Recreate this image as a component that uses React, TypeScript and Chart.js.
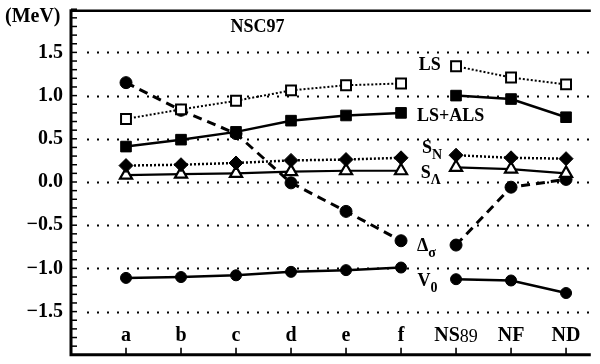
import React, { useEffect, useRef } from 'react';
import { Chart, registerables } from 'chart.js';

Chart.register(...registerables);

// Interaction sets along the horizontal axis
const categories = ['a', 'b', 'c', 'd', 'e', 'f', 'NS89', 'NF', 'ND'];

// Spin-dependent contributions (MeV)
const lsValues = [0.73, 0.84, 0.94, 1.06, 1.12, 1.14, 1.34, 1.21, 1.13];
const lsAlsValues = [0.41, 0.49, 0.58, 0.71, 0.77, 0.8, 1.0, 0.96, 0.75];
const sNValues = [0.19, 0.2, 0.22, 0.25, 0.26, 0.28, 0.31, 0.28, 0.27];
const sLambdaValues = [0.08, 0.09, 0.1, 0.12, 0.13, 0.13, 0.17, 0.15, 0.1];
const deltaSigmaValues = [1.15, 0.83, 0.56, -0.01, -0.34, -0.68, -0.73, -0.06, 0.03];
const v0Values = [-1.11, -1.1, -1.08, -1.04, -1.02, -0.99, -1.125, -1.14, -1.285];

// Y tick values that carry a dotted reference line
const gridValues = [1.5, 1.0, 0.5, 0.0, -0.5, -1.0, -1.5];

const FONT = '"Liberation Serif", "Times New Roman", serif';

// NSC97 variants (a..f) and the other models are drawn as separate line runs
function toPoints(values: number[]) {
  const pts: { x: number; y: number | null }[] = [];
  values.forEach((v, i) => {
    if (i === 6) pts.push({ x: 6.5, y: null });
    pts.push({ x: i + 1, y: v });
  });
  return pts;
}

type Note = { x: number; y: number; main: string; sub?: string };
const notes: Note[] = [
  { x: 6.32, y: 1.35, main: 'LS' },
  { x: 6.29, y: 0.755, main: 'LS+ALS' },
  { x: 6.38, y: 0.39, main: 'S', sub: 'N' },
  { x: 6.36, y: 0.096, main: 'S', sub: 'Λ' },
  { x: 6.29, y: -0.74, main: 'Δ', sub: 'σ' },
  { x: 6.3, y: -1.155, main: 'V', sub: '0' },
];

const framePlugin = {
  id: 'frame',
  beforeDatasetsDraw(chart: any) {
    const { ctx, chartArea, scales } = chart;
    const y = scales.y;
    ctx.save();
    ctx.strokeStyle = '#000';
    ctx.lineWidth = 1.8;
    ctx.setLineDash([2, 8]);
    for (const v of gridValues) {
      const py = Math.round(y.getPixelForValue(v)) + 0.5;
      ctx.beginPath();
      ctx.moveTo(chartArea.left + 16, py);
      ctx.lineTo(chartArea.right, py);
      ctx.stroke();
    }
    ctx.restore();
  },
  afterDraw(chart: any) {
    const { ctx, chartArea, scales } = chart;
    const { left, right, top, bottom } = chartArea;
    const x = scales.x;
    const y = scales.y;
    ctx.save();
    ctx.strokeStyle = '#000';
    ctx.setLineDash([]);

    // minor ticks on the value axis, pointing inward
    ctx.lineWidth = 1.5;
    for (let k = -20; k <= 20; k++) {
      const py = y.getPixelForValue(k / 10);
      ctx.beginPath();
      ctx.moveTo(left, py);
      ctx.lineTo(left + 6, py);
      ctx.stroke();
    }
    // category ticks, pointing up, with their labels inside the plot
    ctx.fillStyle = '#000';
    ctx.textBaseline = 'middle';
    categories.forEach((name, i) => {
      const px = x.getPixelForValue(i + 1);
      ctx.lineWidth = 1.6;
      ctx.beginPath();
      ctx.moveTo(px, bottom);
      ctx.lineTo(px, bottom - 7);
      ctx.stroke();

      const m = name.match(/^([A-Za-z]+)(\d*)$/);
      const head = m ? m[1] : name;
      const tail = m ? m[2] : '';
      ctx.font = `bold 20px ${FONT}`;
      const wHead = ctx.measureText(head).width;
      ctx.font = `18px ${FONT}`;
      const wTail = tail ? ctx.measureText(tail).width : 0;
      const start = px - (wHead + wTail) / 2;
      ctx.textAlign = 'left';
      ctx.font = `bold 20px ${FONT}`;
      ctx.fillText(head, start, bottom - 19);
      if (tail) {
        ctx.font = `18px ${FONT}`;
        ctx.fillText(tail, start + wHead, bottom - 18);
      }
    });

    // frame lines
    ctx.lineWidth = 2.5;
    ctx.beginPath();
    ctx.moveTo(left, top + 1.5);
    ctx.lineTo(right, top + 1.5);
    ctx.stroke();
    ctx.lineWidth = 3;
    ctx.beginPath();
    ctx.moveTo(left, top);
    ctx.lineTo(left, bottom);
    ctx.lineTo(right, bottom);
    ctx.stroke();

    // series names
    ctx.textAlign = 'left';
    for (const n of notes) {
      const px = x.getPixelForValue(n.x);
      const py = y.getPixelForValue(n.y);
      ctx.font = `bold 18px ${FONT}`;
      ctx.fillText(n.main, px, py);
      if (n.sub) {
        const w = ctx.measureText(n.main).width;
        ctx.font = `bold 14px ${FONT}`;
        ctx.fillText(n.sub, px + w, py + 7);
      }
    }

    // model name
    ctx.font = `bold 18px ${FONT}`;
    ctx.textAlign = 'center';
    ctx.fillText('NSC97', x.getPixelForValue(3.39), y.getPixelForValue(1.786));

    // unit label
    ctx.font = `bold 20px ${FONT}`;
    ctx.textAlign = 'left';
    ctx.fillText('(MeV)', 5, 17);
    ctx.restore();
  },
};

export default function App() {
  const canvasRef = useRef<HTMLCanvasElement | null>(null);

  useEffect(() => {
    document.body.style.margin = '0';
    const canvas = canvasRef.current;
    if (!canvas) return;

    const chart = new Chart(canvas, {
      type: 'line',
      data: {
        datasets: [
          {
            label: 'LS',
            data: toPoints(lsValues),
            borderColor: '#000',
            borderWidth: 2,
            borderDash: [2, 2],
            pointStyle: 'rect',
            pointRadius: 7,
            pointBackgroundColor: '#fff',
            pointBorderColor: '#000',
            pointBorderWidth: 2,
            spanGaps: false,
          },
          {
            label: 'LS+ALS',
            data: toPoints(lsAlsValues),
            borderColor: '#000',
            borderWidth: 2.5,
            pointStyle: 'rect',
            pointRadius: 7.5,
            pointBackgroundColor: '#000',
            pointBorderColor: '#000',
            pointBorderWidth: 1,
            spanGaps: false,
          },
          {
            label: 'SN',
            data: toPoints(sNValues),
            borderColor: '#000',
            borderWidth: 2.5,
            borderDash: [2, 2],
            pointStyle: 'rectRot',
            pointRadius: 7,
            pointBackgroundColor: '#000',
            pointBorderColor: '#000',
            pointBorderWidth: 1,
            spanGaps: false,
          },
          {
            label: 'SLambda',
            data: toPoints(sLambdaValues),
            borderColor: '#000',
            borderWidth: 2.2,
            pointStyle: 'triangle',
            pointRadius: 7,
            pointBackgroundColor: '#fff',
            pointBorderColor: '#000',
            pointBorderWidth: 2.2,
            spanGaps: false,
          },
          {
            label: 'DeltaSigma',
            data: toPoints(deltaSigmaValues),
            borderColor: '#000',
            borderWidth: 3,
            borderDash: [9, 6],
            pointStyle: 'circle',
            pointRadius: 6,
            pointBackgroundColor: '#000',
            pointBorderColor: '#000',
            pointBorderWidth: 1,
            spanGaps: false,
          },
          {
            label: 'V0',
            data: toPoints(v0Values),
            borderColor: '#000',
            borderWidth: 2.5,
            pointStyle: 'circle',
            pointRadius: 5.5,
            pointBackgroundColor: '#000',
            pointBorderColor: '#000',
            pointBorderWidth: 1,
            spanGaps: false,
          },
        ],
      },
      options: {
        responsive: false,
        animation: false,
        layout: { padding: { top: 3, left: 0, right: 0, bottom: 0 } },
        plugins: {
          legend: { display: false },
          tooltip: { enabled: false },
        },
        scales: {
          x: {
            type: 'linear',
            min: 0,
            max: 9.45,
            grid: { display: false, drawTicks: false },
            border: { display: false },
            ticks: { display: false },
            afterFit: (s: any) => {
              s.height = 6;
              s.paddingLeft = 0;
              s.paddingRight = 0;
            },
          },
          y: {
            type: 'linear',
            min: -2,
            max: 2,
            grid: { display: false, drawTicks: false },
            border: { display: false },
            afterFit: (s: any) => {
              s.width = 71;
              s.paddingTop = 0;
              s.paddingBottom = 0;
            },
            ticks: {
              stepSize: 0.5,
              padding: 8,
              color: '#000',
              font: { family: FONT, size: 20, weight: 'bold' },
              callback: (v: any) => {
                const n = Number(v);
                if (Math.abs(n) > 1.9) return '';
                const s = Math.abs(n).toFixed(1);
                return n < 0 ? '−' + s : s;
              },
            },
          },
        },
      },
      plugins: [framePlugin],
    });

    return () => chart.destroy();
  }, []);

  return <canvas ref={canvasRef} width={600} height={364} style={{ display: 'block' }} />;
}
